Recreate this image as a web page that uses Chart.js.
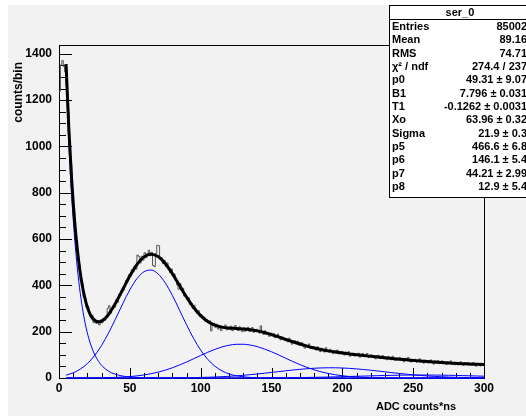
<!DOCTYPE html>
<html><head><meta charset="utf-8">
<script src="https://cdn.jsdelivr.net/npm/chart.js@4/dist/chart.umd.min.js"></script>
<style>html,body{margin:0;padding:0;background:#f2f2f2;}#wrap{width:526px;height:416px;position:relative;}</style>
</head><body><div id="wrap"><canvas id="c" width="526" height="416"></canvas></div>
<script>
// ---------------- data ----------------
const binWidth = 1;
const histCounts = [
 1238,1352,1371,1345,1322,1262,1151,998,921,786,
 731,628,594,509,488,421,409,352,347,305,
 309,276,263,271,239,254,236,248,229,251,
 238,257,249,268,301,312,279,297,311,306,
 338,327,361,358,383,379,394,421,417,446,
 439,468,459,482,470,531,524,497,526,509,
 541,519,537,552,528,543,486,481,538,573,
 571,512,519,494,508,482,497,468,455,471,
 441,449,421,402,383,408,379,388,354,361,
 339,347,318,324,301,314,288,279,291,266,
 274,257,263,244,252,238,247,203,229,236,
 219,232,211,226,205,222,215,229,208,218,
 209,224,204,218,227,209,205,221,216,200,
 217,202,211,219,201,205,218,197,201,210,
 207,194,225,200,188,204,188,195,180,194,
 182,192,174,183,190,173,165,178,173,161,
 170,156,172,157,146,158,161,147,159,142,
 152,153,138,129,142,135,147,127,129,136,
 132,121,135,123,114,128,122,112,131,114,
 112,124,117,105,117,109,121,104,108,115,
 112,99,112,102,114,94,104,107,95,104,
 98,107,90,101,106,92,95,106,88,96,
 100,89,93,83,96,98,84,87,97,83,
 90,79,93,86,79,94,81,76,86,81,
 89,76,82,70,85,76,89,73,69,79,
 73,81,68,76,83,68,74,64,77,74,
 65,74,78,67,60,74,65,75,62,68,
 74,62,68,58,70,64,74,58,67,57,
 67,57,64,70,59,55,66,59,67,55,
 62,55,67,56,51,63,60,52,63,56
];
const fitX = [5,7,9,11,13,15,17,19,21,23,25,27,29,31,33,35,40,45,50,55,60,65,70,75,80,85,90,95,100,105,110,115,120,125,130,135,140,145,150,155,160,165,170,175,180,185,190,195,200,205,210,215,220,225,230,235,240,245,250,255,260,265,270,275,280,285,290,295,300];
const fitY = [1356,1070,850,681,552,454,381,327,289.5,264,249.5,243,243,249,260,275,324,382.4,440.7,489.9,522.9,534.8,524.5,494.7,451,400.2,349.6,304.9,269.5,244.2,228.5,219.8,215.8,213.8,212,208.7,203.5,196.4,187.5,177.5,166.9,156.5,146.6,137.7,129.8,123,117.2,112.3,107.9,104.1,100.5,97.2,93.9,90.6,87.5,84.4,81.4,78.5,75.9,73.3,70.9,68.8,66.8,65,63.4,61.8,60.4,59.1,57.8];
const expX = [5,7,9,11,13,15,17,19,21,23,25,27,29,31,33,35,37,39,41,43,45,47,49,51,53,55,57,59,61,65,70,75,80,90,100,120,150,200,250,300];
const expY = [1294,1005,780.6,606.6,471.3,366,284.4,221,171.7,133.4,103.7,80.5,62.6,48.6,37.8,29.3,22.8,17.7,13.8,10.7,8.3,6.5,5.0,3.9,3.0,2.35,1.8,1.4,1.1,0.67,0.35,0.19,0.1,0.03,0.01,0,0,0,0,0];
const compX = [5,10,15,20,25,30,35,40,45,50,55,60,65,70,75,80,85,90,95,100,105,110,115,120,125,130,135,140,145,150,155,160,165,170,175,180,185,190,195,200,205,210,215,220,225,230,235,240,245,250,255,260,265,270,275,280,285,290,295,300];
const gaus1 = [12.4,22.4,38.4,62.2,95.9,140.2,194.6,256.5,320.7,380.8,429.1,459.0,466.1,449.2,410.9,356.9,294.1,230.1,170.9,120.5,80.6,51.2,30.9,17.7,9.6,5.0,2.4,1.1,0.5,0.2,0.1,0,0,0,0,0,0,0,0,0,0,0,0,0,0,0,0,0,0,0,0,0,0,0,0,0,0,0,0,0];
const gaus2 = [0.06,0.1,0.19,0.34,0.58,0.98,1.62,2.6,4.06,6.17,9.13,13.2,18.55,25.4,33.9,44.1,55.9,69.0,83.0,97.3,111.1,123.6,133.9,141.4,145.45,145.8,142.3,135.4,125.5,113.3,99.7,85.4,71.3,58.0,46.0,35.5,26.7,19.6,14.0,9.7,6.6,4.35,2.8,1.76,1.07,0.64,0.37,0.21,0.12,0.06,0.03,0.01,0,0,0,0,0,0,0,0];
const gaus3 = [0,0,0,0,0,0,0.01,0.01,0.02,0.04,0.07,0.1,0.16,0.25,0.38,0.57,0.83,1.2,1.7,2.35,3.2,4.3,5.67,7.34,9.34,11.7,14.4,17.35,20.6,24.0,27.6,31.05,34.4,37.4,40.0,42.1,43.5,44.16,44.06,43.2,41.6,39.4,36.7,33.6,30.2,26.7,23.2,19.8,16.6,13.7,11.1,8.8,6.9,5.3,4.0,2.98,2.17,1.56,1.1,0.76];
const gaus4 = [0,0,0,0,0,0,0,0,0,0,0,0,0,0,0,0,0,0,0.01,0.02,0.03,0.05,0.07,0.1,0.14,0.2,0.28,0.39,0.53,0.7,0.91,1.18,1.5,1.89,2.35,2.88,3.49,4.17,4.92,5.72,6.58,7.46,8.35,9.23,10.07,10.84,11.52,12.08,12.51,12.79,12.9,12.84,12.62,12.24,11.72,11.08,10.34,9.52,8.65,7.76];
const xTicks = [0,50,100,150,200,250,300];
const yTicks = [0,200,400,600,800,1000,1200,1400];
const xMinorStep = 10;
const yMinorStep = 50;
const xRange = [0,300];
const yRange = [0,1438];
const xTitle = 'ADC counts*ns';
const yTitle = 'counts/bin';
const statsTitle = 'ser_0';
const statsLabels = ['Entries','Mean','RMS','\u03C7\u00B2 / ndf','p0','B1','T1','Xo','Sigma','p5','p6','p7','p8'];
const statsValues = ['85002','89.16','74.71','274.4 / 237','49.31 \u00B1 9.07','7.796 \u00B1 0.031','-0.1262 \u00B1 0.0031','63.96 \u00B1 0.32','21.9 \u00B1 0.3','466.6 \u00B1 6.8','146.1 \u00B1 5.4','44.21 \u00B1 2.99','12.9 \u00B1 5.4'];

// ---------------- build ----------------
const pairs = (xs, ys) => xs.map((x, i) => ({x, y: ys[i]}));
const histData = histCounts.map((v, i) => ({x: i * binWidth, y: v}));
histData.push({x: histCounts.length * binWidth, y: histCounts[histCounts.length - 1]});

const FONT = "'Liberation Sans', Arial, Helvetica, sans-serif";
const blue = '#0000ff';
const comp = (data) => ({data, borderColor: blue, borderWidth: 1, pointRadius: 0, cubicInterpolationMode: 'monotone', fill: false, order: 3, clip: {left: 0, top: 0, right: 0, bottom: 2}});

const bgPlugin = {
  id: 'bg',
  beforeDraw(chart) {
    const c = chart.ctx;
    c.save();
    c.fillStyle = '#f2f2f2';
    c.fillRect(0, 0, chart.width, chart.height);
    c.fillStyle = '#ffffff';
    c.fillRect(0, 0, chart.width, 5);
    c.fillRect(0, 0, 8, chart.height);
    c.restore();
  }
};

const framePlugin = {
  id: 'frame',
  beforeDatasetsDraw(chart) {
    const c = chart.ctx, a = chart.chartArea;
    const xs = chart.scales.x, ys = chart.scales.y;
    c.save();
    c.strokeStyle = '#000';
    c.lineWidth = 1;
    c.strokeRect(Math.round(a.left) + 0.5, Math.round(a.top) + 0.5, Math.round(a.right - a.left), Math.round(a.bottom - a.top));
    c.beginPath();
    for (let v = yRange[0]; v <= yRange[1]; v += yMinorStep) {
      const y = Math.round(ys.getPixelForValue(v)) + 0.5;
      const len = (v % 200 === 0) ? 13 : 7;
      c.moveTo(a.left, y); c.lineTo(a.left + len, y);
    }
    for (let v = xRange[0]; v <= xRange[1]; v += xMinorStep) {
      const x = Math.round(xs.getPixelForValue(v)) + 0.5;
      const len = (v % 50 === 0) ? 10 : 5;
      c.moveTo(x, a.bottom); c.lineTo(x, a.bottom - len);
    }
    c.stroke();
    c.restore();
  }
};

const textPlugin = {
  id: 'texts',
  afterDraw(chart) {
    const c = chart.ctx;
    c.save();
    c.fillStyle = '#000';
    c.font = 'bold 11px ' + FONT;
    c.textAlign = 'right';
    c.textBaseline = 'alphabetic';
    c.fillText(xTitle, 456, 410);
    c.save();
    c.translate(22, 62);
    c.rotate(-Math.PI / 2);
    c.font = 'bold 12px ' + FONT;
    c.textAlign = 'right';
    c.fillText(yTitle, 0, 0);
    c.restore();
    const bx = 389, by = 5, bw = 150, bh = 192;
    c.fillStyle = '#ffffff';
    c.fillRect(bx, by, bw, bh);
    c.strokeStyle = '#000';
    c.lineWidth = 1;
    c.strokeRect(bx + 0.5, by + 0.5, bw, bh);
    c.beginPath();
    c.moveTo(bx, 19.5); c.lineTo(bx + bw, 19.5);
    c.stroke();
    c.fillStyle = '#000';
    c.font = 'bold 11px ' + FONT;
    c.textBaseline = 'middle';
    c.textAlign = 'center';
    c.fillText(statsTitle, 460, 12.5);
    for (let i = 0; i < statsLabels.length; i++) {
      const y = 27 + i * 13.33;
      c.textAlign = 'left';
      c.fillText(statsLabels[i], 392, y);
      c.textAlign = 'right';
      c.fillText(statsValues[i], 527, y);
    }
    c.restore();
  }
};

new Chart(document.getElementById('c'), {
  type: 'line',
  data: {
    datasets: [
      {data: pairs(fitX, fitY), borderColor: '#000', borderWidth: 3, pointRadius: 0, cubicInterpolationMode: 'monotone', fill: false, order: 0},
      {data: histData, borderColor: '#555', borderWidth: 1, pointRadius: 0, stepped: 'before', fill: false, order: 1},
      comp(pairs(expX, expY)),
      comp(pairs(compX, gaus1)),
      comp(pairs(compX, gaus2)),
      comp(pairs(compX, gaus3)),
      comp(pairs(compX, gaus4))
    ]
  },
  options: {
    responsive: false,
    devicePixelRatio: 1,
    animation: false,
    layout: {padding: {left: 0, right: 42, top: 45, bottom: 0}},
    plugins: {legend: {display: false}, tooltip: {enabled: false}},
    scales: {
      x: {
        type: 'linear', min: xRange[0], max: xRange[1],
        afterBuildTicks: (s) => { s.ticks = xTicks.map(v => ({value: v})); },
        afterFit: (s) => { s.height = 38; },
        grid: {display: true, drawOnChartArea: false, drawTicks: false},
        border: {display: true, color: '#000', width: 1},
        ticks: {autoSkip: false, maxRotation: 0, padding: 3, color: '#000', callback: (v) => String(v), font: {family: FONT, size: 12, weight: 'bold'}}
      },
      y: {
        type: 'linear', min: yRange[0], max: yRange[1],
        afterBuildTicks: (s) => { s.ticks = yTicks.map(v => ({value: v})); },
        afterFit: (s) => { s.width = 59; },
        grid: {display: true, drawOnChartArea: false, drawTicks: false},
        border: {display: true, color: '#000', width: 1},
        ticks: {autoSkip: false, padding: 7, color: '#000', callback: (v) => String(v), font: {family: FONT, size: 12, weight: 'bold'}}
      }
    }
  },
  plugins: [bgPlugin, framePlugin, textPlugin]
});
</script></body></html>
